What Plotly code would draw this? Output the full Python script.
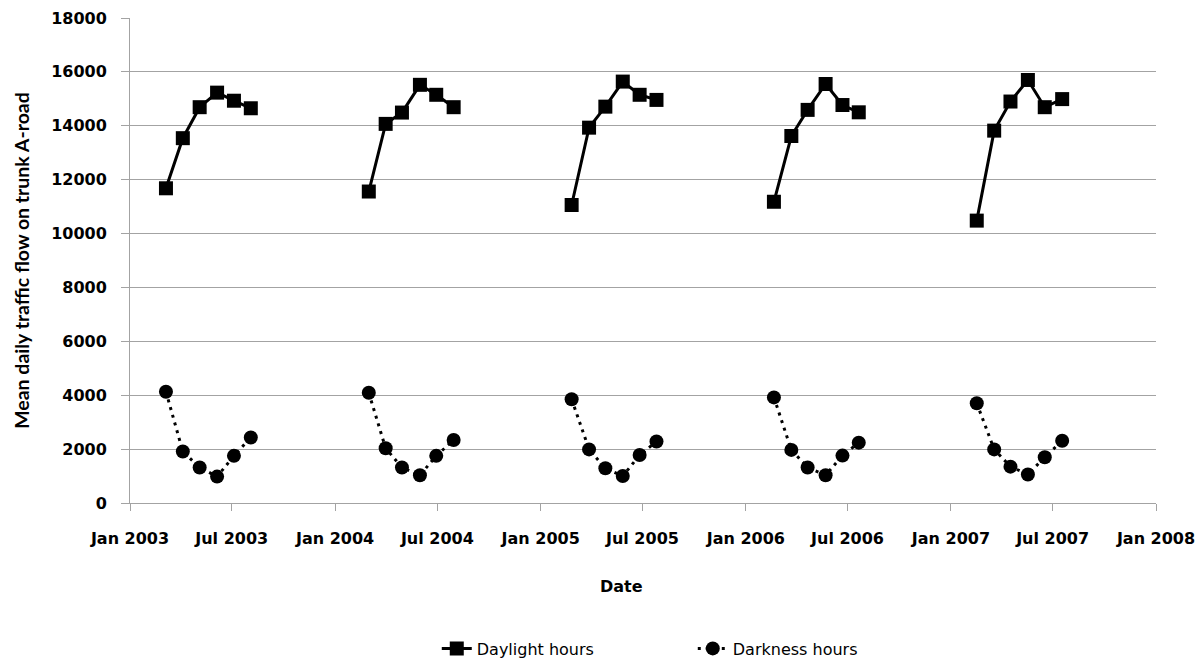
import plotly.graph_objects as go

# ---- data ----
dates_2003 = ["2003-03-06", "2003-04-05", "2003-05-05", "2003-06-05", "2003-07-05", "2003-08-04"]
dates_2004 = ["2004-03-01", "2004-03-31", "2004-04-29", "2004-05-31", "2004-06-29", "2004-07-30"]
dates_2005 = ["2005-02-25", "2005-03-28", "2005-04-26", "2005-05-27", "2005-06-26", "2005-07-26"]
dates_2006 = ["2006-02-20", "2006-03-23", "2006-04-21", "2006-05-23", "2006-06-22", "2006-07-21"]
dates_2007 = ["2007-02-16", "2007-03-19", "2007-04-17", "2007-05-18", "2007-06-17", "2007-07-18"]

daylight_2003 = [11680, 13540, 14690, 15230, 14930, 14650]
daylight_2004 = [11560, 14070, 14490, 15520, 15150, 14690]
daylight_2005 = [11060, 13930, 14710, 15640, 15150, 14960]
daylight_2006 = [11180, 13620, 14590, 15550, 14770, 14500]
daylight_2007 = [10480, 13820, 14900, 15700, 14690, 14990]

darkness_2003 = [4130, 1910, 1320, 980, 1750, 2430]
darkness_2004 = [4090, 2030, 1320, 1030, 1750, 2340]
darkness_2005 = [3850, 1990, 1290, 1000, 1780, 2280]
darkness_2006 = [3920, 1970, 1320, 1030, 1760, 2240]
darkness_2007 = [3700, 1990, 1350, 1060, 1700, 2310]

series_names = ["Daylight hours", "Darkness hours"]
x_title = "Date"
y_title = "Mean daily traffic flow on trunk A-road"

all_dates = [dates_2003, dates_2004, dates_2005, dates_2006, dates_2007]
all_day = [daylight_2003, daylight_2004, daylight_2005, daylight_2006, daylight_2007]
all_dark = [darkness_2003, darkness_2004, darkness_2005, darkness_2006, darkness_2007]


def join_groups(groups):
    out = []
    for i, g in enumerate(groups):
        if i:
            out.append(None)
        out.extend(g)
    return out


x_all = join_groups(all_dates)
y_day = join_groups(all_day)
y_dark = join_groups(all_dark)

GRID = "#a3a3a3"
TICKFONT = dict(family="DejaVu Sans", size=16, color="#000000", weight="bold")

fig = go.Figure()
fig.add_trace(go.Scatter(
    x=x_all, y=y_day, name=series_names[0], mode="lines+markers",
    connectgaps=False,
    line=dict(color="#000000", width=3),
    marker=dict(symbol="square", size=14, color="#000000"),
))
fig.add_trace(go.Scatter(
    x=x_all, y=y_dark, name=series_names[1], mode="lines+markers",
    connectgaps=False,
    line=dict(color="#000000", width=3, dash="3px,5px"),
    marker=dict(symbol="circle", size=14, color="#000000"),
))

fig.update_layout(
    width=1204, height=659,
    margin=dict(l=130, r=48, t=18, b=156, autoexpand=False),
    paper_bgcolor="#ffffff", plot_bgcolor="#ffffff",
    showlegend=True,
    legend=dict(
        orientation="h", x=0.299, xanchor="left", y=-0.30, yanchor="middle",
        font=dict(family="DejaVu Sans", size=16, color="#000000"),
        entrywidth=211, entrywidthmode="pixels",
        bgcolor="rgba(0,0,0,0)",
    ),
    annotations=[
        dict(text=x_title, xref="paper", yref="paper", x=0.4786, y=-0.173,
             xanchor="center", yanchor="middle", showarrow=False,
             font=dict(family="DejaVu Sans", size=16, color="#000000", weight="bold")),
    ],
)

fig.update_xaxes(
    type="date", range=["2003-01-01", "2008-01-01"],
    tick0="2003-01-01", dtick="M6", tickformat="%b %Y",
    showgrid=False, zeroline=False, automargin=False,
    showline=True, linecolor=GRID, linewidth=1,
    ticks="outside", ticklen=7, tickcolor=GRID, tickwidth=1,
    tickfont=TICKFONT, ticklabelstandoff=14,
)
fig.update_yaxes(
    range=[0, 18000], tick0=0, dtick=2000, tickformat="d",
    showgrid=True, gridcolor=GRID, gridwidth=1,
    zeroline=False, showline=True, linecolor=GRID, linewidth=1, automargin=False,
    ticks="outside", ticklen=8, tickcolor=GRID, tickwidth=1,
    tickfont=TICKFONT, ticklabelstandoff=11,
    title=dict(text=y_title, standoff=16,
               font=dict(family="Lato", size=19.5, color="#000000", weight="bold")),
)

fig.write_html(
    "out.html",
    config={"displayModeBar": False},
    post_script="document.body.style.margin='0';document.body.style.overflow='hidden';",
)
